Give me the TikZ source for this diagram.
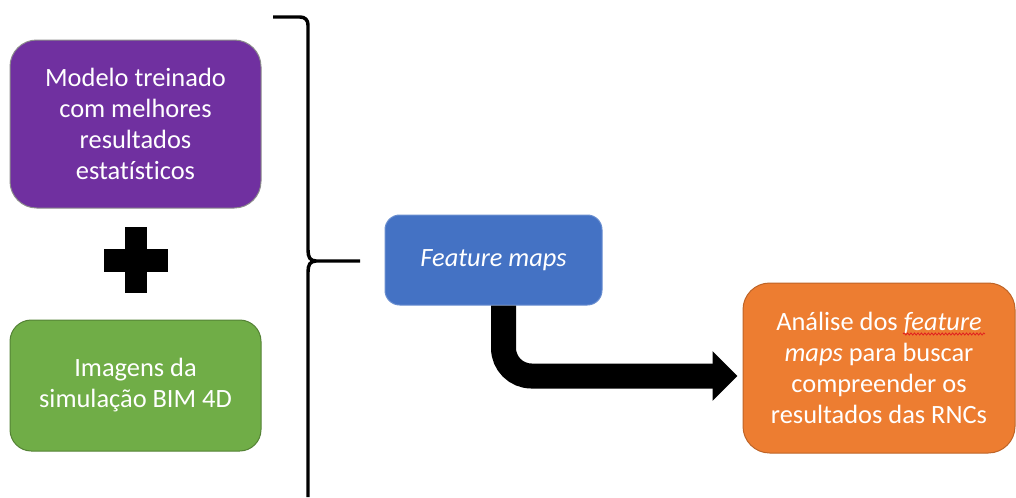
\documentclass[tikz,border=0pt]{standalone}
\usepackage{fontspec}
\setmainfont[Ligatures={NoCommon}]{Carlito}
\usetikzlibrary{arrows.meta,decorations.pathmorphing}
\definecolor{cpurple}{HTML}{7030A0}
\definecolor{cgreen}{HTML}{70AD47}
\definecolor{cblue}{HTML}{4472C4}
\definecolor{corange}{HTML}{ED7D31}
\definecolor{wavered}{HTML}{E02020}
\begin{document}
\begin{tikzpicture}[x=0.75pt,y=-0.75pt,
  box/.style={text=white, align=center, font=\fontsize{19.8}{23.25}\selectfont, inner sep=0pt, line width=0.75pt},
  bracestyle/.style={line width=2.6pt, line join=round},
  wavy/.style={draw=wavered, line width=0.6pt, decorate, decoration={snake, amplitude=0.8pt, segment length=2.6pt}},
  bigarrow/.style={line width=18.75pt, rounded corners=21pt, -{Triangle[length=18.75pt,width=36pt]}}]
\useasboundingbox (0,0) rectangle (1016,497);
\node[box, fill=cpurple, draw=black!45, rounded corners=20pt, minimum width=188.25pt, minimum height=126pt] (model) at (135.5,124) {Modelo treinado\\com melhores\\resultados\\estatísticos};
\node[box, fill=cgreen, draw=cgreen!75!black, rounded corners=16pt, minimum width=188.25pt, minimum height=98.25pt] (imgs) at (135.5,385.5) {Imagens da\\simulação BIM 4D};
\node[box, fill=cblue, draw=cblue!80!white, rounded corners=11pt, minimum width=162.75pt, minimum height=67.5pt] (feat) at (493.5,260) {\textit{Feature maps}};
\node[box, fill=corange, draw=corange!80!black, rounded corners=20pt, minimum width=204pt, minimum height=127.5pt] (anal) at (879,368) {Análise dos \textit{feature}\\\textit{maps} para buscar\\compreender os\\resultados das RNCs};
% spell-check squiggle
\coordinate (w1) at (903,334);
\coordinate (w2) at (985,334);
\path[wavy] (w1) -- (w2);
% plus sign
\fill[black] (104,249) rectangle (168,272);
\fill[black] (125,227) rectangle (147,293);
% brace
\coordinate (btip) at (360,261);
\draw[bracestyle] (273,17) -- (300,17) .. controls (305,17) and (308,20) .. (308,25) -- (308,250)
  .. controls (308,257) and (310,261) .. (316,261) -- (btip);
\draw[bracestyle] (316,261) .. controls (310,261) and (308,265) .. (308,272) -- (308,497);
% bent arrow
\draw[bigarrow] ([xshift=7.5pt]feat.south) |- ([xshift=-3.75pt,yshift=-6pt]anal.west);
\end{tikzpicture}
\end{document}
